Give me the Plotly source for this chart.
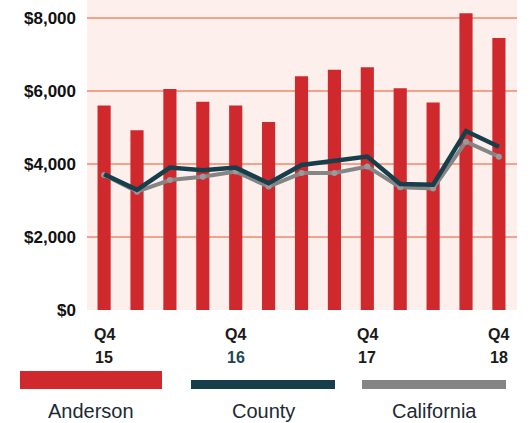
import plotly.graph_objects as go

# ---- data ----
quarters = ["Q4 15", "Q1 16", "Q2 16", "Q3 16", "Q4 16", "Q1 17", "Q2 17",
            "Q3 17", "Q4 17", "Q1 18", "Q2 18", "Q3 18", "Q4 18"]
anderson = [5600, 4920, 6050, 5700, 5600, 5150, 6400, 6580, 6650, 6070, 5680, 8130, 7450]
county = [3720, 3290, 3900, 3830, 3900, 3470, 3970, 4080, 4200, 3450, 3430, 4900, 4470]
california = [3700, 3240, 3560, 3650, 3790, 3380, 3750, 3750, 3930, 3360, 3330, 4610, 4200]
label_idx = [0, 4, 8, 12]
label_top = ["Q4", "Q4", "Q4", "Q4"]
label_bottom = ["15", "16", "17", "18"]
y_ticks = [0, 2000, 4000, 6000, 8000]
y_ticktext = ["$0", "$2,000", "$4,000", "$6,000", "$8,000"]
series_names = ["Anderson", "County", "California"]

RED = "#cf282d"
TEAL = "#173f4b"
GRAY = "#858585"
FONT = "Liberation Sans, Arial, sans-serif"

W, H = 531, 423
ML, MR, MT, MB = 87, 14, 0, 113
PW = W - ML - MR
PH = H - MT - MB

x = list(range(len(quarters)))

fig = go.Figure()
fig.add_trace(go.Bar(x=x, y=anderson, marker=dict(color=RED, line=dict(width=0)),
                     width=0.4, name=series_names[0], showlegend=False))
fig.add_trace(go.Scatter(x=x, y=california, mode="lines+markers",
                         line=dict(color=GRAY, width=4),
                         marker=dict(color="#9a9a9a", size=6),
                         name=series_names[2], showlegend=False))
fig.add_trace(go.Scatter(x=x, y=county, mode="lines",
                         line=dict(color=TEAL, width=4.5),
                         name=series_names[1], showlegend=False))


def px_x(X):
    return (X - ML) / PW


def px_y(Y):
    return (H - MB - Y) / PH


shapes = []
annotations = []

# x tick labels (two lines with wide spacing)
for i, t, b in zip(label_idx, label_top, label_bottom):
    annotations.append(dict(x=i, y=0, xref="x", yref="paper", text=f"<b>{t}</b>",
                            showarrow=False, yshift=-24, yanchor="middle",
                            font=dict(family=FONT, size=16, color="#1a1a1a")))
    annotations.append(dict(x=i, y=0, xref="x", yref="paper", text=f"<b>{b}</b>",
                            showarrow=False, yshift=-47, yanchor="middle",
                            font=dict(family=FONT, size=16,
                                      color="#1b4656" if b == "16" else "#1a1a1a")))

# custom legend: thick colour bars with labels below
legend_boxes = [
    (20, 162, 371, 389, RED),
    (191, 335, 380, 389, TEAL),
    (362, 506, 380, 389, GRAY),
]
for (x0, x1, y0, y1, c), name in zip(legend_boxes, series_names):
    shapes.append(dict(type="rect", xref="paper", yref="paper",
                       x0=px_x(x0), x1=px_x(x1), y0=px_y(y1), y1=px_y(y0),
                       fillcolor=c, line=dict(width=0), layer="above"))
    annotations.append(dict(x=px_x((x0 + x1) / 2), y=px_y(411), xref="paper", yref="paper",
                            text=name, showarrow=False, xanchor="center", yanchor="middle",
                            font=dict(family=FONT, size=20, color="#1c2a33")))

fig.update_layout(
    width=W, height=H,
    margin=dict(l=ML, r=MR, t=MT, b=MB, pad=0),
    paper_bgcolor="white",
    plot_bgcolor="#fdf0ec",
    bargap=0.6,
    shapes=shapes,
    annotations=annotations,
    showlegend=False,
    xaxis=dict(range=[-0.52, 12.55], showticklabels=False, showgrid=False,
               zeroline=False, showline=False, ticks="", fixedrange=True),
    yaxis=dict(range=[0, 8490], tickvals=y_ticks, ticktext=[f"<b>{t}</b>" for t in y_ticktext],
               showgrid=True, gridcolor="#f6a18a", gridwidth=2,
               zeroline=False, showline=False, ticks="",
               ticklabelstandoff=10,
               tickfont=dict(family=FONT, size=17, color="#111111"), fixedrange=True),
)

fig.write_html("out.html")
